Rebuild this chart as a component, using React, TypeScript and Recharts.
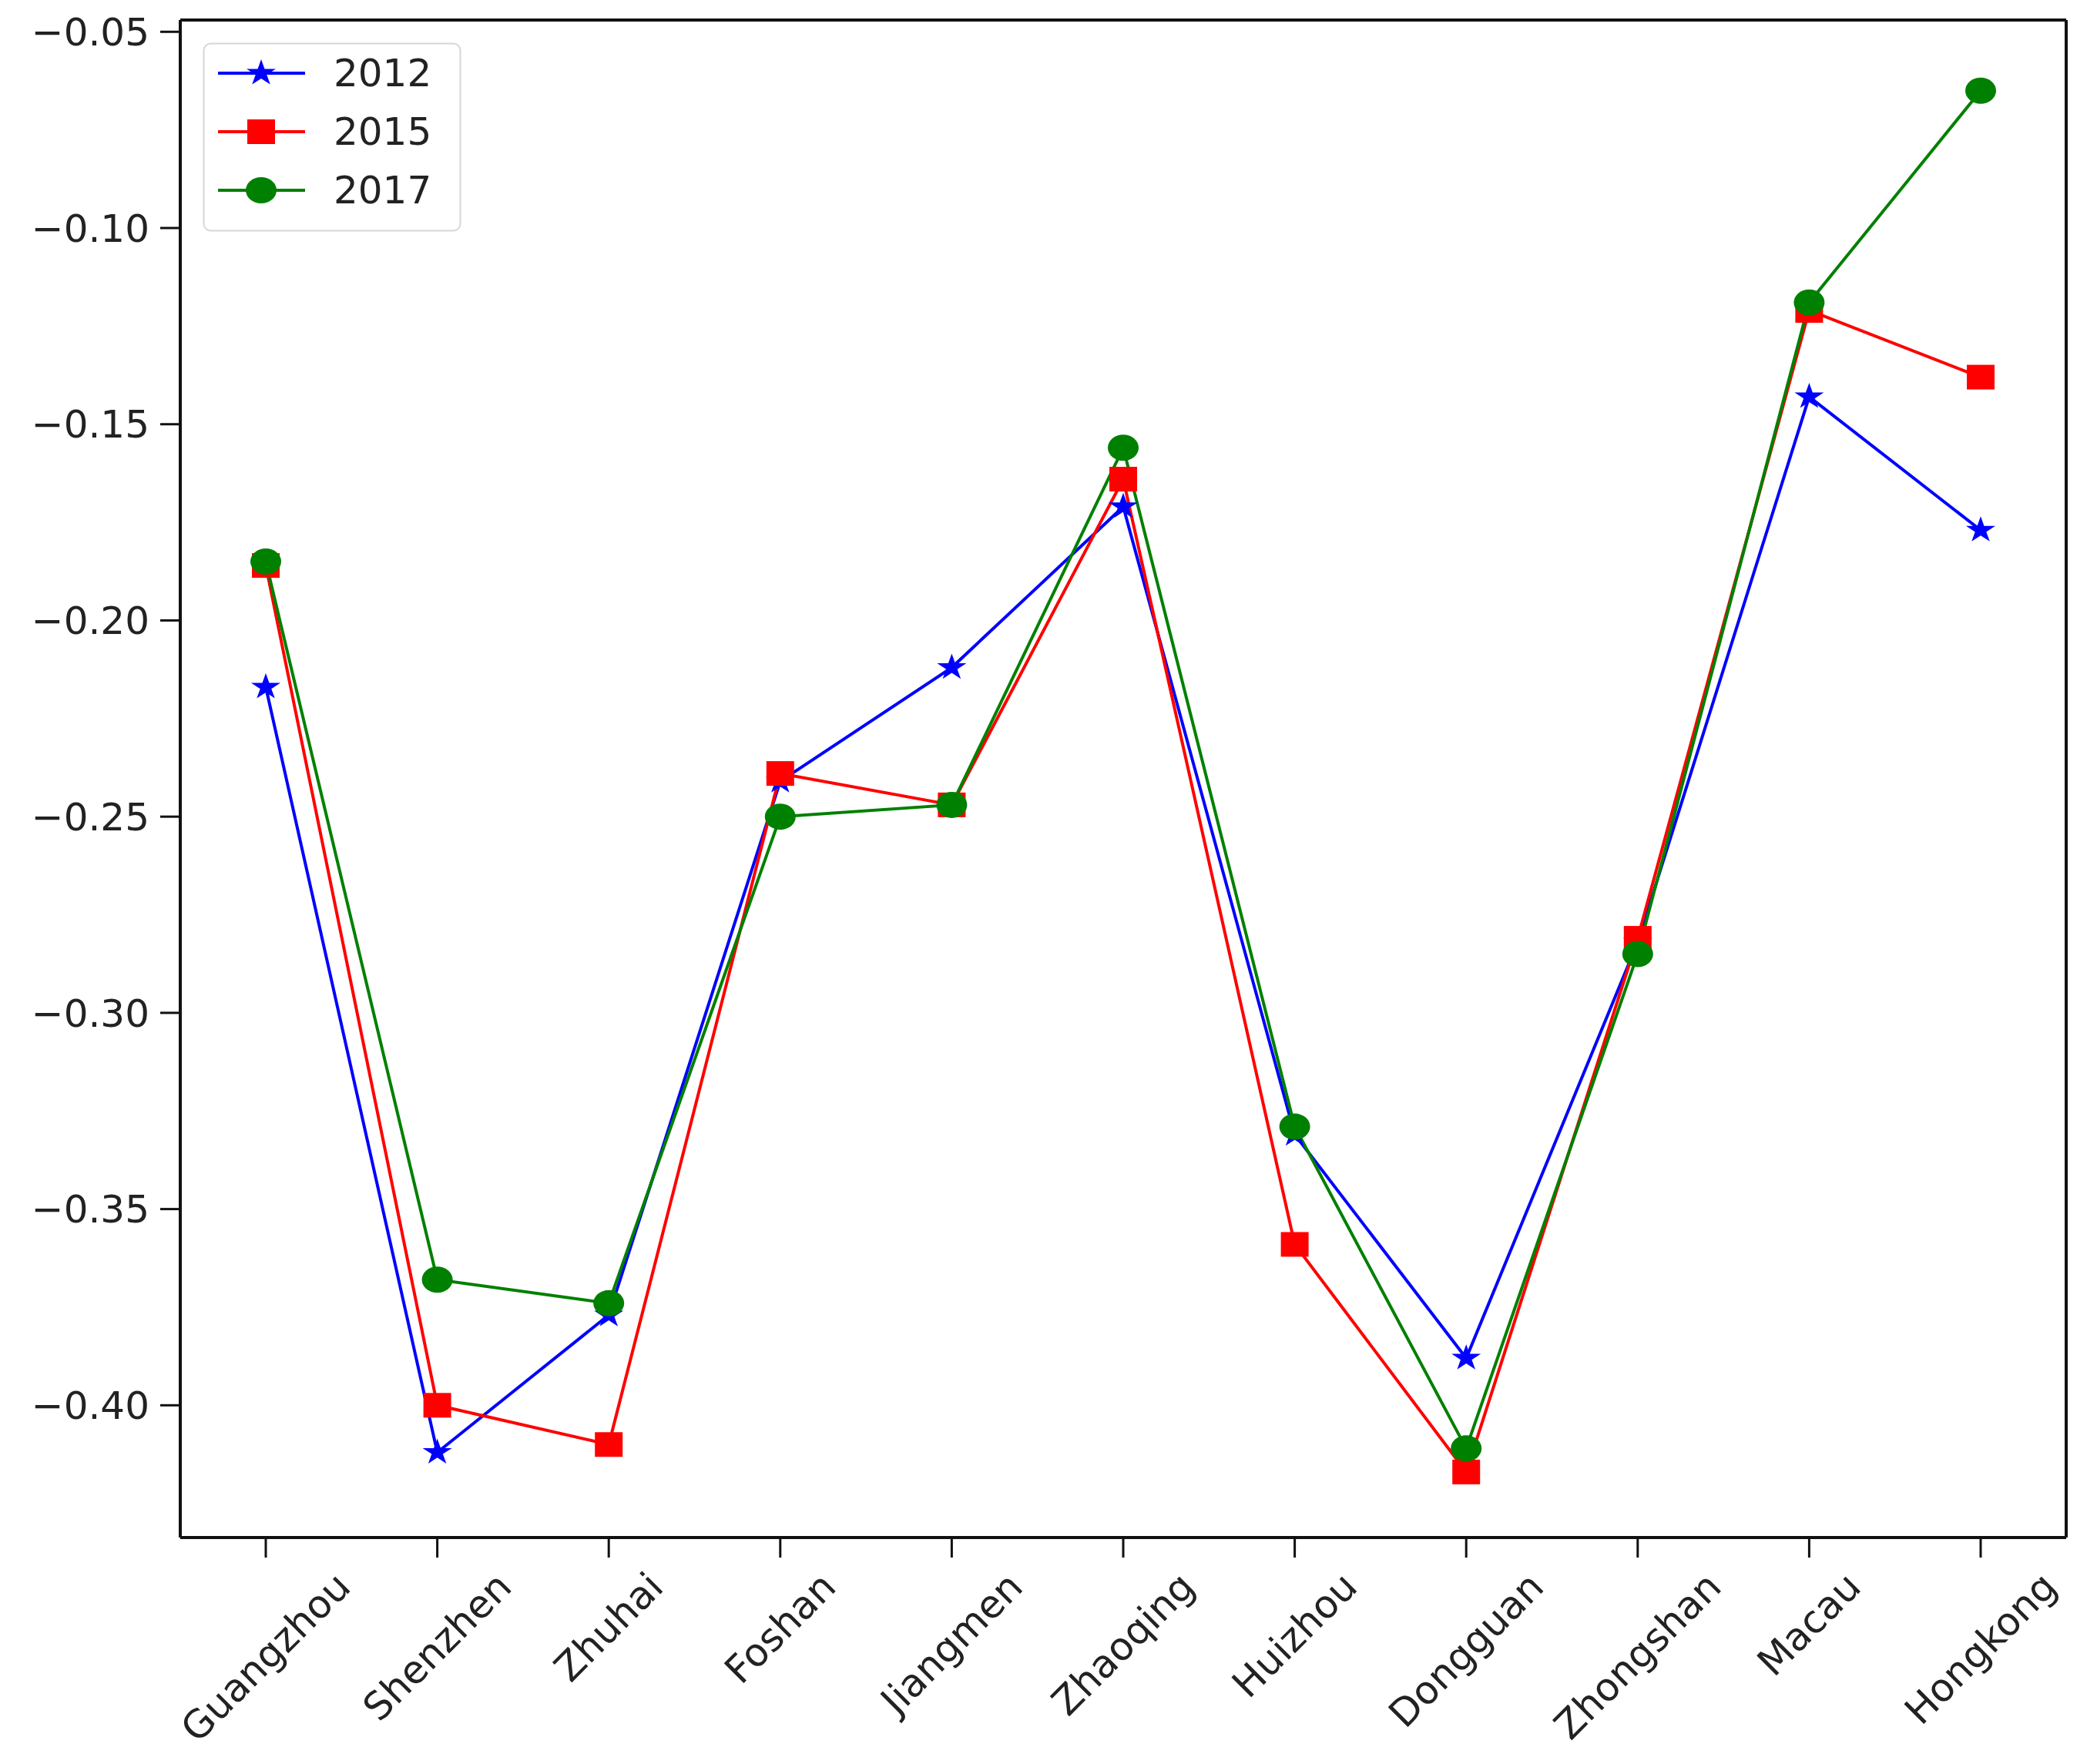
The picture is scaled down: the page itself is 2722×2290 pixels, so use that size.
import { LineChart, Line, XAxis, YAxis, Legend, CartesianGrid } from "recharts";

const cities = [
  "Guangzhou",
  "Shenzhen",
  "Zhuhai",
  "Foshan",
  "Jiangmen",
  "Zhaoqing",
  "Huizhou",
  "Dongguan",
  "Zhongshan",
  "Macau",
  "Hongkong",
];
const values2012 = [-0.217, -0.412, -0.377, -0.241, -0.212, -0.171, -0.331, -0.388, -0.282, -0.143, -0.177];
const values2015 = [-0.186, -0.4, -0.41, -0.239, -0.247, -0.164, -0.359, -0.417, -0.281, -0.121, -0.138];
const values2017 = [-0.185, -0.368, -0.374, -0.25, -0.247, -0.156, -0.329, -0.411, -0.285, -0.119, -0.065];
const yTicks = [-0.4, -0.35, -0.3, -0.25, -0.2, -0.15, -0.1, -0.05];

const series = [
  { key: "y2012", name: "2012", color: "#0000ff", shape: "star" },
  { key: "y2015", name: "2015", color: "#ff0000", shape: "square" },
  { key: "y2017", name: "2017", color: "#008000", shape: "circle" },
];

const data = cities.map((city, i) => ({
  city,
  y2012: values2012[i],
  y2015: values2015[i],
  y2017: values2017[i],
}));

const FONT = "DejaVu Sans";
const FONT_SIZE = 50;
const TEXT = "#222";

let ctx: CanvasRenderingContext2D | null = null;
function textWidth(s: string) {
  if (!ctx) ctx = document.createElement("canvas").getContext("2d");
  if (!ctx) return s.length * FONT_SIZE * 0.6;
  ctx.font = `${FONT_SIZE}px "${FONT}"`;
  return ctx.measureText(s).width;
}

function starPoints(cx: number, cy: number, rx: number, ry: number) {
  const pts: string[] = [];
  for (let i = 0; i < 10; i++) {
    const a = -Math.PI / 2 + (i * Math.PI) / 5;
    const k = i % 2 === 0 ? 1 : 0.382;
    pts.push(`${cx + Math.cos(a) * rx * k},${cy + Math.sin(a) * ry * k}`);
  }
  return pts.join(" ");
}

function Marker({ shape, cx, cy, color }: { shape: string; cx: number; cy: number; color: string }) {
  if (shape === "star") return <polygon points={starPoints(cx, cy, 20, 18)} fill={color} />;
  if (shape === "square") return <rect x={cx - 18} y={cy - 16} width={36} height={32} fill={color} />;
  return <ellipse cx={cx} cy={cy} rx={20} ry={17} fill={color} />;
}

const fmt = (v: number) => (v < 0 ? "\u2212" : "") + Math.abs(v).toFixed(2);

function CityTick(props: any) {
  const { x, y, payload } = props;
  const w = textWidth(payload.value);
  const h = FONT_SIZE * 0.95;
  const cy = y + ((w + h) * Math.SQRT1_2) / 2;
  return (
    <text
      x={x}
      y={cy}
      textAnchor="middle"
      dominantBaseline="central"
      transform={`rotate(-45 ${x} ${cy})`}
      fontFamily={FONT}
      fontSize={FONT_SIZE}
      fill={TEXT}
    >
      {payload.value}
    </text>
  );
}

function LegendBox() {
  return (
    <svg width={336} height={246}>
      <rect x={1.5} y={1.5} width={333} height={243} rx={9} fill="#fff" fillOpacity={0.8} stroke="#d6d6d6" strokeWidth={2} />
      {series.map((s, i) => {
        const cy = 40 + i * 76;
        return (
          <g key={s.key}>
            <line x1={20} x2={133} y1={cy} y2={cy} stroke={s.color} strokeWidth={4} />
            <Marker shape={s.shape} cx={76} cy={cy} color={s.color} />
            <text x={170} y={cy} dominantBaseline="central" fontFamily={FONT} fontSize={FONT_SIZE} fill={TEXT}>
              {s.name}
            </text>
          </g>
        );
      })}
    </svg>
  );
}

export default function App() {
  return (
    <div style={{ position: "absolute", left: 0, top: 0, background: "#fff" }}>
      <LineChart width={2722} height={2290} data={data} margin={{ top: 26, right: 40, bottom: 0, left: 0 }}>
        {/* matplotlib style box around the plot area */}
        <CartesianGrid
          stroke="#111"
          strokeWidth={4}
          horizontalCoordinatesGenerator={({ offset }: any) => [offset.top, offset.top + offset.height]}
          verticalCoordinatesGenerator={({ offset }: any) => [offset.left, offset.left + offset.width]}
        />
        <XAxis
          dataKey="city"
          height={294}
          padding={{ left: 111, right: 111 }}
          interval={0}
          tick={<CityTick />}
          tickSize={26}
          tickMargin={12}
          axisLine={{ stroke: "#111", strokeWidth: 4 }}
          tickLine={{ stroke: "#111", strokeWidth: 3 }}
        />
        <YAxis
          width={234}
          domain={[-0.4337, -0.047]}
          ticks={yTicks}
          tickFormatter={fmt}
          tickSize={26}
          tickMargin={14}
          tick={{ fontFamily: FONT, fontSize: FONT_SIZE, fill: TEXT }}
          axisLine={{ stroke: "#111", strokeWidth: 4 }}
          tickLine={{ stroke: "#111", strokeWidth: 3 }}
        />
        <Legend
          layout="vertical"
          align="center"
          verticalAlign="middle"
          content={() => <LegendBox />}
          wrapperStyle={{ left: 263, top: 55, width: 336, height: 246 }}
        />
        {series.map((s) => (
          <Line
            key={s.key}
            dataKey={s.key}
            name={s.name}
            stroke={s.color}
            strokeWidth={4}
            isAnimationActive={false}
            dot={(p: any) => <Marker key={p.index} shape={s.shape} cx={p.cx} cy={p.cy} color={s.color} />}
            activeDot={false}
          />
        ))}
      </LineChart>
    </div>
  );
}
